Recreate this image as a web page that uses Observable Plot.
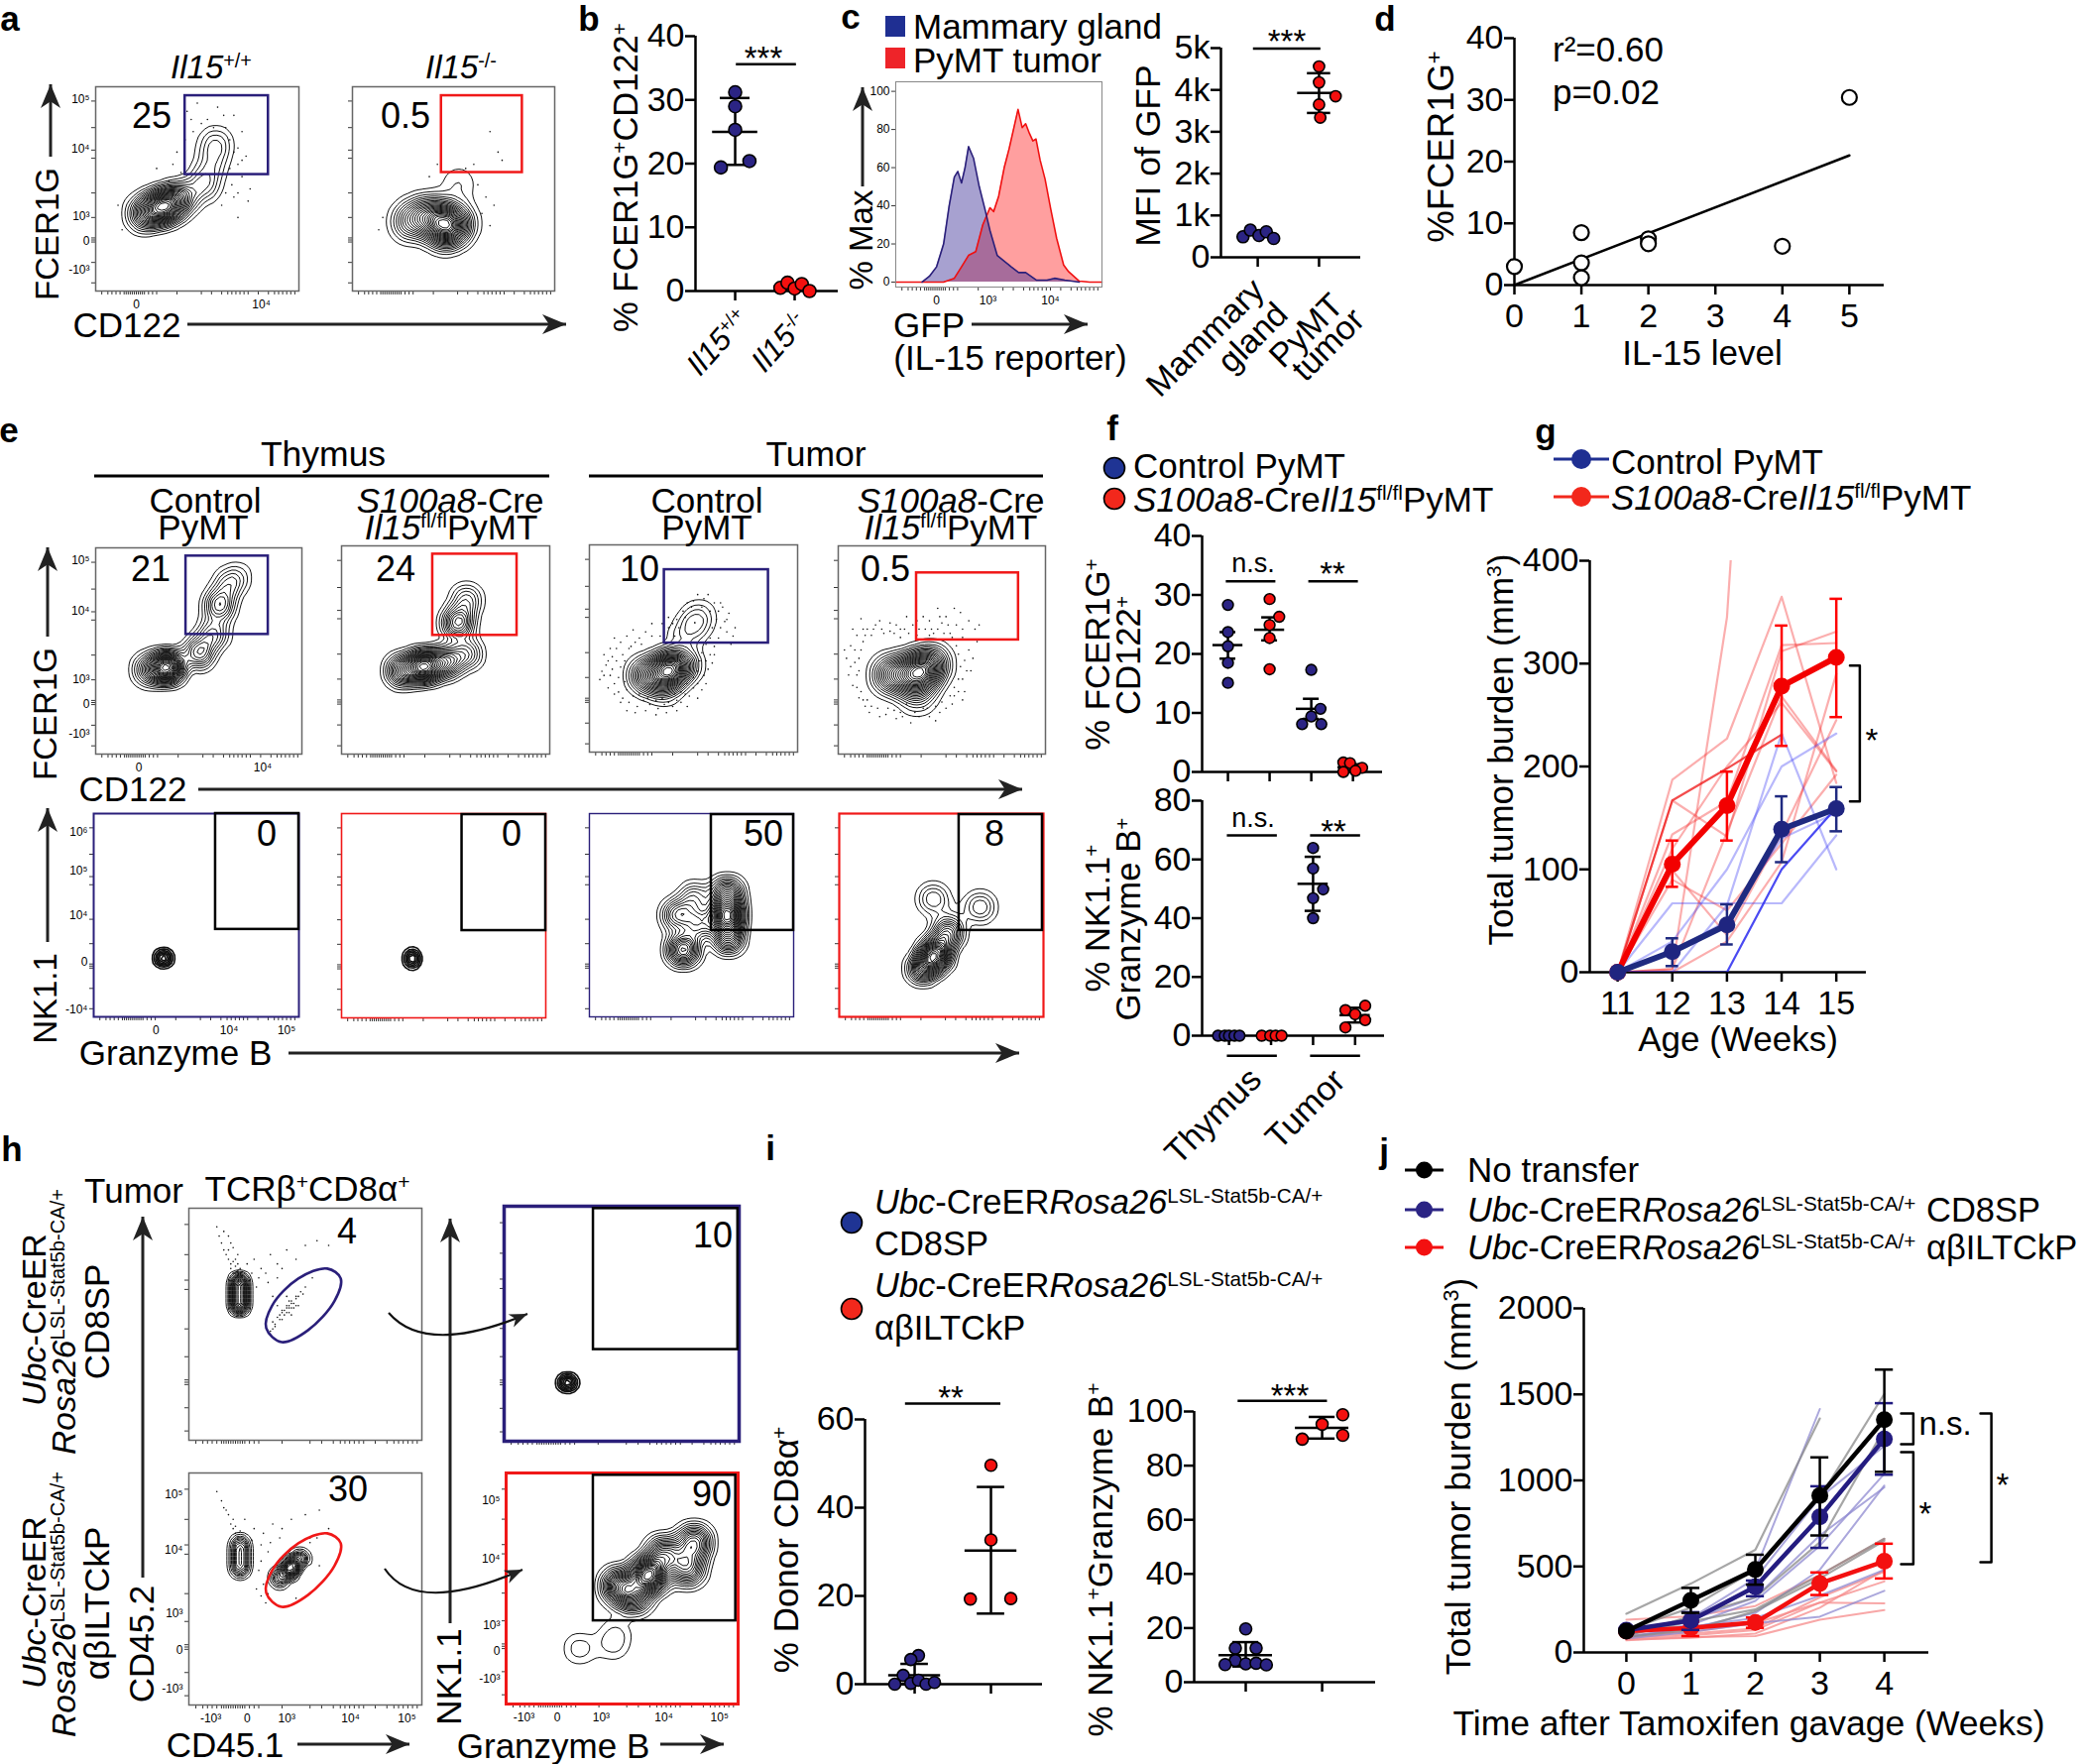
<!DOCTYPE html>
<html><head><meta charset="utf-8">
<script src="https://cdn.jsdelivr.net/npm/d3@7"></script>
<script src="https://cdn.jsdelivr.net/npm/@observablehq/plot@0.6"></script>
<style>
html,body{margin:0;background:#fff}
#root{position:relative;width:2100px;height:1779px;overflow:hidden;background:#fff;font-family:"Liberation Sans",Arial,sans-serif;color:#000}
#root svg{position:absolute;overflow:visible;max-width:none}
.t{position:absolute;white-space:nowrap;line-height:1}
.t sup{font-size:.6em;line-height:0;vertical-align:baseline;position:relative;top:-.55em}
</style></head><body><div id="root"></div>
<script>
const FONT='"Liberation Sans",Arial,sans-serif';
const NAVY='#2b2484',RED='#f4100f',GATEN='#2a1f7a',GATER='#f01818';

/* ---------- flow panels: [x channel %, y channel %, weight] ---------- */
const a1Pts=[[33,41,10],[24,38,5],[41,45,5],[53,52,2.5],[57,62,1.5],[59,72,2]];
const a2Pts=[[44,34,10],[29,34,6],[52,33,6],[37,38,5],[46,28,5],[52,50,1.2],[53,56,.5]];
const e1Pts=[[35,42,10],[26,41,4],[50,49,4],[57,58,3],[60,72,4],[64,82,2],[69,86,1]];
const e2Pts=[[39.5,42,10],[29,40,5],[50,44,5],[60,48,3],[56,63,5],[60,74,2.5]];
const e3Pts=[[38,40,10],[27,37,5],[46,42,3],[44,55,1],[50,61,1.5],[36,32,3],[53,66,1.2]];
const e4Pts=[[38,39,10],[26,38,6],[45,43,5],[38,29,3]];
const e5Pts=[[34,29,1]];
const e6Pts=[[34.5,29,1]];
const e7Pts=[[67.5,50,8],[67.5,61,4],[46,33,5],[43,50,3],[54,46,3],[51.5,58.5,2],[68,39,4]];
const e8Pts=[[47,30.5,10],[41,24,5],[53,41,5],[46,58,2.4],[69,54,2.4],[55,50,.5]];
const h1Pts=[[21.7,68,1],[21.7,63,1],[21.7,58,1]];
const h2Pts=[[27,25,1]];
const h3Pts=[[22,69,3],[22,64,3],[22,59,3],[43.4,59,6],[39,55,3],[47.6,63,3]];
const h4Pts=[[61.5,55.8,10],[49,51,6],[78,59,5],[81,70,5],[68,65,5],[55.5,46.5,4],[31.6,24,1],[46,26,1],[48,33,.5]];

const e3Halo=[[8,42],[10,37],[11,46],[12,33],[13,50],[14,29],[15,53],[16,26],[17,44],[18,56],[19,24],[20,51],[21,59],[23,22],[24,55],[26,25],[27,58],[29,23],[30,62],[33,21],[34,56],[36,23],[38,60],[40,22],[42,25],[44,24],[46,28],[48,27],[50,31],[52,33],[54,30],[55,37],[57,40],[56,44],[58,47],[60,51],[62,55],[63,60],[65,63],[66,58],[67,67],[64,70],[60,72],[55,74],[50,73],[45,68],[42,64],[38,65],[35,62],[68,52],[70,60],[6,39],[9,31],[7,47],[12,55],[5,35],
 [14,36],[15,41],[13,44],[16,47],[17,34],[18,30],[19,50],[21,27],[22,53],[24,28],[25,52],[28,26],[30,56],[32,25],[35,26],[38,24],[41,28],[44,29],[47,33],[50,36],[52,39],[53,44],[54,48],[56,52],[58,55],[59,60],[61,64],[62,68],[58,68],[54,70],[49,70],[46,65],[43,60],[41,56],[40,62],[47,72],[52,76],[57,76],[63,72],[66,64],[69,56],[11,40],[9,44],[7,37],[10,50],[12,28],[15,24],[18,20],[22,19],[27,20],[32,18],[37,19],[42,20],[47,22],[52,26],[56,33],[59,43],[60,47]];
const e4Halo=[[4,46],[5,38],[6,52],[7,33],[8,44],[9,57],[10,27],[11,50],[12,60],[13,23],[15,20],[16,57],[18,62],[20,18],[22,58],[24,22],[25,63],[28,17],[30,20],[32,60],[35,15],[36,62],[39,18],[41,66],[43,22],[45,60],[47,16],[49,20],[50,63],[52,66],[54,58],[55,24],[57,62],[58,30],[59,68],[60,36],[61,45],[62,55],[63,64],[64,40],[66,60],[56,70],[48,70],[44,57],[38,57],[30,56],[56,28],[60,26],[27,58],[10,40],[7,60],[14,26],
 [9,38],[10,46],[8,50],[9,32],[11,30],[12,54],[13,57],[12,26],[14,60],[16,23],[17,60],[19,22],[21,60],[23,19],[25,59],[27,21],[30,60],[31,18],[33,24],[34,58],[37,20],[39,60],[41,22],[42,60],[44,18],[46,58],[47,23],[48,60],[50,25],[51,58],[52,22],[53,62],[54,28],[55,56],[56,32],[57,52],[58,36],[58,48],[59,42],[60,56],[60,60],[61,30],[62,40],[63,50],[65,46],[67,54],[68,62],[49,66],[44,64],[38,64],[33,66],[28,62],[20,64],[6,42],[3,50],[11,65]];
const a1Halo=[[45,88],[50,92],[55,84],[60,90],[68,86],[72,78],[70,70],[74,66],[66,60],[72,56],[76,50],[68,46],[62,42],[40,68],[38,62],[42,58],[36,54],[30,60],[48,78],[44,74],[52,82],[64,80],[75,44],[70,36],[11,42],[13,30],[66,74],[68,68],[70,62],[72,64],[67,52],[70,48],[64,48],[47,84],[58,80],[63,86]];
const a2Halo=[[56,60],[60,62],[48,58],[62,52],[66,46],[70,42],[64,38],[68,32],[15,36],[13,30],[68,78],[72,68],[42,62],[38,56],[74,64]];
const h1Tail=[[12,92],[13,88],[14,85],[15,82],[16,80],[17,78],[18,76],[18,74],[19,72],[20,70],[21,73],[19,77],[17,82],[25,76],[28,78],[31,74],[35,80],[38,76],[42,82],[46,78],[50,84],[55,86],[60,84],[30,70],[34,68],[38,70],[36,62],[38,58],[40,56],[42,58],[43,58],[44,60],[46,62],[48,64],[40,52],[37,50],[36,48],[44,54],[47,58],[50,66],[53,70],[42,62],[39,54],[45,57],
 [41,56],[43,57],[44,59],[45,59],[42,57],[43,60],[41,54],[39,52],[37,49],[46,61],[44,57],[42,55],[40,55],[47,62],[38,53],[43,55],[46,58],[49,63],[35,47],[36,51],[20,78],[20,75],[21,80],[19,83],[18,85],[17,88],[15,90],[20,72],[21,71],[22,74],[21,76],[22,72],[23,71],[27,72],[33,72],[29,66],[40,74]];
const h3Tail=[[12,92],[14,88],[15,85],[17,82],[18,78],[19,76],[20,74],[21,72],[24,80],[28,76],[32,74],[36,78],[40,76],[44,80],[50,82],[56,84],[60,76],[55,72],[52,70],[34,66],[31,62],[30,58],[32,52],[34,48],[52,48],[46,46],[56,60],[16,84],[19,80],[20,77],[22,75],[27,71],[31,69],[35,70],[39,72],[29,50],[31,47],[33,44],[52,72]];
const hEllipse=[[59.4,74],[65.2,69.7],[62.5,60],[51.1,47.4],[39.8,42.3],[33.2,48.3],[35.7,58],[47,69.7]];

const gates={a1:[44,85,57,95.6],a2:[44,84,58,95.6],e1:[43.8,83.7,58,96],e2:[43.8,84.3,57,96],e3:[36,86,52.6,88],e4:[37.8,87,54.8,87],
 e5:[59.4,100,43,100],e6:[59,100,42.7,99.5],e7:[59.7,100,42.5,99.5],e8:[58.7,99.5,42.5,99.5],h2:[38,99.5,39,99],h4:[37.6,99,36,99]};

const minorX=[3,6,8,10,12,14,15,16,17,18,19,20,21,22,23,24,26,28,30,40,52,57,62,65,67,69,71,73,75,80,85,88,90,92,94,96,98];
const minorY=[4,14,24,25,26,36,48,65,69,80,93];

/* histogram of panel c */
const gfpBlueX=[12.8,16.3,19.8,23.2,25.9,28.4,30.1,31.9,33.6,35.3,37.7,40.5,43.3,45.7,49.2,52.6,56,59.6,63,68.3,73.4,77,82,89];
const gfpBlueY=[0,3,8,20,40,55,58,52,60,71,65,50,38,27,14,11,8,5,5,1,1,2,1,0];
const gfpRedX=[0,23.2,28.4,31.9,35.3,38.8,42.2,45.7,47.5,49.9,52.6,55,59.3,61.3,63,64.8,66.5,68,70,72.4,75.2,78,81.4,83.8,89,94,100];
const gfpRedY=[0,0,2,8,14,16,30,39,37,45,60,70,90.5,81,83,78,74,75,64,54,38,23,9,5.5,.5,0,0];

/* dot plots */
const bWtOff=[0,0,0,-.24,.24], bWt=[31.2,29,25.3,19.4,20.4];
const bKoOff=[-.24,-.12,0,.12,.25], bKo=[.5,1.3,.4,1.1,0];
const cMgOff=[-.24,-.12,.02,.14,.26], cMg=[.49,.65,.52,.61,.45];
const cTuOff=[0,0,.27,0,.02], cTu=[4560,4180,3850,3650,3340];
const dX=[0,1,1,1,2,2,4,5], dY=[3,8.5,3.6,1.2,7.5,6.7,6.3,30.4];
const dFit=[[0,0],[5,21]];
const f1Off=[[0,0,0,0,0],[0,.23,0,0,0],[0,.22,0,-.22,.24],[-.23,-.07,.22,.06,-.23]];
const f1Val=[[28.3,23.7,21.3,18.5,15.1],[29.3,26.3,24.9,22.7,17.4],[17.3,10.7,9.4,8.1,8.1],[1.6,1.5,.7,.2,0]];
const f2Off=[[-.26,-.1,0,.13,.25],[-.22,-.02,.11,.25],[0,0,.24,0,0],[.24,-.23,0,.24,-.23]];
const f2Val=[[0,0,0,0,0],[0,0,0,0],[63.9,56.9,49.8,46.8,40],[10.2,8.7,7.3,5.3,2.8]];
const i1Off=[[.05,-.05,-.15,-.26,-.05,.05,.15,.26],[0,0,-.27,.26]];
const i1Val=[[6.5,5.6,2,0,.2,.9,0,.4],[49.6,32.7,19.3,19.4]];
const i2Off=[[0,-.136,.136,-.136,-.27,0,.136,.27],[.27,0,.27,-.26]];
const i2Val=[[19.7,12.6,12.6,8,6.5,6.8,7,6.4],[98.8,95.3,91.2,89.8]];

/* growth curves */
const weeksG=[11,12,13,14,15];
const gRedMean=[0,105,162,278,306],gRedLo=[0,83,128,220,248],gRedHi=[0,128,195,337,363];
const gBlueMean=[0,20,46,139,159],gBlueLo=[0,6,27,107,137],gBlueHi=[0,33,66,171,180];
const gRedThin=[[0,187,227,365,184],[0,167,132,312,331],[0,134,166,318,320],[0,3,345,1150,null],[0,99,36,135,245],[0,3,136,268,196],[0,120,200,262,195],[0,0,30,107,290],[0,90,60,125,192]];
const gRedDark=[[0,167,198,231,null]];
const gBlueThin=[[0,67,67,67,133],[0,30,100,200,232],[0,0,65,232,100],[0,20,50,130,155]];
const gBlueDark=[[0,0,0,100,160]];
const weeksJ=[0,1,2,3,4];
const jBlackMean=[124,303,482,912,1353],jBlackLo=[124,230,394,680,1050],jBlackHi=[124,375,568,1134,1644];
const jBlueMean=[130,186,382,788,1241],jBlueLo=[130,131,327,608,1033],jBlueHi=[130,234,418,966,1449];
const jRedMean=[124,143,174,401,530],jRedLo=[124,95,143,334,430],jRedHi=[124,179,203,465,632];
const jGray=[[225,400,597,1360,null],[130,260,480,900,1503],[100,210,320,640,1300],[100,180,250,450,661],[90,130,240,430,650]];
const jPurple=[[130,300,480,1415,null],[110,160,300,620,1038],[100,190,320,680,960],[90,140,230,480,970],[80,120,170,208,358],[100,200,430,900,1200],[90,150,200,330,480]];
const jPink=[[190,210,270,450,660],[100,120,170,290,413],[80,100,130,290,286],[70,90,95,190,246],[90,110,140,320,470],[75,85,110,260,480]];

/* ---------- helpers ---------- */
const root=document.getElementById('root');
function T(html,x,y,size=35,rot=0,anchor='c',bold=false){
  const s=document.createElement('div');s.className='t';s.innerHTML=html;
  s.style.left=x+'px';s.style.top=y+'px';s.style.fontSize=size+'px';
  if(bold)s.style.fontWeight='bold';
  s.style.transform=(anchor==='c'?'translate(-50%,-50%)':'translate(0,-50%)')+(rot?` rotate(${rot}deg)`:'');
  root.append(s);
}
function place(opts,left,top){const svg=Plot.plot(opts);svg.style.left=left+'px';svg.style.top=top+'px';root.append(svg);return svg;}
const noLabel=()=>'';
const group=(g,off,vals)=>vals.map((v,i)=>({x:g+off[i],y:v}));
const zipXY=(xs,ys)=>xs.map((x,i)=>({x,y:ys[i]}));
const series=(xs,list)=>list.flatMap((s,k)=>s.map((v,i)=>({x:xs[i],y:v,k})).filter(d=>d.y!=null));
const bars=(xs,mean,lo,hi)=>xs.map((x,i)=>({x,m:mean[i],lo:lo[i],hi:hi[i]}));
function dots(data,fill,r=6){return Plot.dot(data,{x:'x',y:'y',r,fill,stroke:'#000',strokeWidth:1.6});}
function err(list,mw,cw,stroke='#000',sw=2.5){
  const rows=Array.isArray(list)?list:[list];
  return [
   Plot.ruleX(rows,{x:'x',y1:'lo',y2:'hi',stroke,strokeWidth:sw}),
   mw?Plot.ruleY(rows,{y:'m',x1:d=>d.x-mw,x2:d=>d.x+mw,stroke,strokeWidth:sw}):null,
   Plot.ruleY(rows,{y:'lo',x1:d=>d.x-cw,x2:d=>d.x+cw,stroke,strokeWidth:sw}),
   Plot.ruleY(rows,{y:'hi',x1:d=>d.x-cw,x2:d=>d.x+cw,stroke,strokeWidth:sw})
  ];
}
const sigBar=(x1,x2,y)=>Plot.ruleY([y],{x1,x2,strokeWidth:2.5});
const bracket=(x0,x1,y0,y1)=>Plot.line([[x0,y0],[x1,y0],[x1,y1],[x0,y1]],{x:d=>d[0],y:d=>d[1],strokeWidth:2.5});

function scat({L,R,Top,B,xd,ymax,yt,yf,xt,xlab=false,fs=34,marks}){
  const mL=110,mR=170,mT=50,mB=60;
  return place({width:R-L+mL+mR,height:B-Top+mT+mB,marginLeft:mL,marginRight:mR,marginTop:mT,marginBottom:mB,
    x:{domain:xd},y:{domain:[0,ymax]},
    style:{fontFamily:FONT,fontSize:fs+'px',color:'#000',background:'transparent'},
    marks:[
      Plot.axisY({ticks:yt,tickSize:10,tickPadding:1,label:null,strokeWidth:2.5,fontSize:fs,tickFormat:yf||(d=>String(d))}),
      Plot.axisX({ticks:xt,tickSize:10,tickPadding:8,label:null,strokeWidth:2.5,fontSize:fs,tickFormat:xlab?(d=>String(d)):noLabel}),
      Plot.ruleX([xd[0]],{y1:0,y2:ymax,strokeWidth:2.5}),
      Plot.ruleY([0],{strokeWidth:2.5}),
      ...marks.flat(2).filter(Boolean)
    ]},L-mL,Top-mT);
}
function flow({L,Top,W,H,frame='#666',fw=1.5,gate,gateColor='#000',gw=2.5,pts,bw=8,th=24,sw=1,halo,ellipse,xl,yl,extra=[]}){
  const m=30;
  const marks=[
    Plot.axisX({ticks:minorX,tickSize:4,tickPadding:0,label:null,strokeWidth:.8,tickFormat:noLabel}),
    Plot.axisY({ticks:minorY,tickSize:4,tickPadding:0,label:null,strokeWidth:.8,tickFormat:noLabel})
  ];
  if(xl)marks.push(Plot.axisX({ticks:xl.map(d=>d[0]),tickSize:0,tickPadding:9,label:null,fontSize:12,tickFormat:v=>xl.find(d=>d[0]===v)[1]}));
  if(yl)marks.push(Plot.axisY({ticks:yl.map(d=>d[0]),tickSize:0,tickPadding:6,label:null,fontSize:12,tickFormat:v=>yl.find(d=>d[0]===v)[1]}));
  if(halo)marks.push(Plot.dot(halo,{x:d=>d[0],y:d=>d[1],r:.8,fill:'#111'}));
  if(pts)marks.push(Plot.density(pts,{x:d=>d[0],y:d=>d[1],weight:d=>d[2],bandwidth:bw,thresholds:th,stroke:'#111',strokeWidth:sw}));
  if(ellipse)marks.push(Plot.line(ellipse,{x:d=>d[0],y:d=>d[1],curve:'catmull-rom-closed',stroke:gateColor,strokeWidth:2.6}));
  marks.push(Plot.frame({stroke:frame,strokeWidth:fw}));
  if(gate)marks.push(Plot.rect([gate],{x1:d=>d[0],x2:d=>d[1],y1:d=>d[2],y2:d=>d[3],fill:'none',stroke:gateColor,strokeWidth:gw}));
  place({width:W+2*m,height:H+2*m,margin:m,x:{domain:[0,100]},y:{domain:[0,100]},
    style:{fontFamily:FONT,fontSize:'12px',color:'#000',background:'transparent'},marks:[...marks,...extra]},L-m,Top-m);
}

/* ---------- panel a ---------- */
const yLabA=[[93.7,'10⁵'],[69.4,'10⁴'],[36.4,'10³'],[24.3,'0'],[10.2,'-10³']];
flow({L:96,Top:87,W:205,H:206,gate:gates.a1,gateColor:GATEN,pts:a1Pts,bw:9,th:24,halo:a1Halo,xl:[[20,'0'],[81.5,'10⁴']],yl:yLabA});
flow({L:355,Top:87,W:204,H:206,gate:gates.a2,gateColor:GATER,pts:a2Pts,bw:10,th:24,halo:a2Halo});

/* ---------- panel b ---------- */
scat({L:701,R:845,Top:36,B:293,xd:[.333,2.733],ymax:40,yt:[0,10,20,30,40],xt:[1,2],marks:[
  err({x:1,m:25,lo:19.8,hi:30.3},.38,.25),sigBar(1.02,2.03,35.6),
  dots(group(1,bWtOff,bWt),NAVY,6.5),dots(group(2,bKoOff,bKo),RED,6.5)]});

/* ---------- panel c ---------- */
{
  const blue=zipXY(gfpBlueX,gfpBlueY),red=zipXY(gfpRedX,gfpRedY),m=30;
  place({width:208+2*m,height:207+2*m,margin:m,x:{domain:[0,100]},y:{domain:[-2.6,105]},
   style:{fontFamily:FONT,fontSize:'12px',background:'transparent'},
   marks:[
    Plot.axisX({ticks:minorX,tickSize:4,tickPadding:0,label:null,strokeWidth:.8,tickFormat:noLabel}),
    Plot.axisX({ticks:[19.7,44.7,75],tickSize:0,tickPadding:9,label:null,fontSize:12,tickFormat:v=>({19.7:'0',44.7:'10³',75:'10⁴'})[v]}),
    Plot.axisY({ticks:[0,20,40,60,80,100],tickSize:4,tickPadding:2,label:null,fontSize:12,strokeWidth:.8}),
    Plot.areaY(red,{x:'x',y1:0,y2:'y',fill:'#ff4040',fillOpacity:.5}),
    Plot.areaY(blue,{x:'x',y1:0,y2:'y',fill:'#3b2f96',fillOpacity:.45}),
    Plot.line(red,{x:'x',y:'y',stroke:'#f01010',strokeWidth:1.6}),
    Plot.line(blue,{x:'x',y:'y',stroke:'#2a1f7a',strokeWidth:1.6}),
    Plot.frame({stroke:'#888',strokeWidth:1})
   ]},903-m,82-m);
}
scat({L:1231,R:1372,Top:48,B:259,xd:[.4,2.68],ymax:5000,yt:[0,1000,2000,3000,4000,5000],yf:d=>d?d/1000+'k':'0',xt:[1,2],marks:[
  err({x:2,m:3930,lo:3450,hi:4400},.35,.19),sigBar(.93,2.03,4990),
  dots(group(1,cMgOff,cMg.map(v=>v*1000)),NAVY,6),dots(group(2,cTuOff,cTu),RED,5.6)]});

/* ---------- panel d ---------- */
scat({L:1527,R:1900,Top:38,B:287,xd:[0,5.52],ymax:40,yt:[0,10,20,30,40],xt:[0,1,2,3,4,5],xlab:true,marks:[
  Plot.line(dFit,{x:d=>d[0],y:d=>d[1],strokeWidth:2.5}),
  Plot.dot(zipXY(dX,dY),{x:'x',y:'y',r:7.5,fill:'#fff',stroke:'#000',strokeWidth:2.2})]});

/* ---------- panel e ---------- */
const yLabE1=[[93.8,'10⁵'],[69.2,'10⁴'],[36,'10³'],[24,'0'],[10,'-10³']];
const yLabE2=[[91,'10⁶'],[72,'10⁵'],[50,'10⁴'],[27,'0'],[3.4,'-10⁴']];
flow({L:96,Top:552,W:208,H:208,gate:gates.e1,gateColor:GATEN,pts:e1Pts,bw:8,th:24,xl:[[21,'0'],[81,'10⁴']],yl:yLabE1});
flow({L:344,Top:550,W:210,H:210,gate:gates.e2,gateColor:GATER,pts:e2Pts,bw:8,th:24});
flow({L:594,Top:549,W:210,H:209,gate:gates.e3,gateColor:GATEN,pts:e3Pts,bw:9,th:24,halo:e3Halo});
flow({L:845,Top:550,W:209,H:210,gate:gates.e4,gateColor:GATER,pts:e4Pts,bw:10,th:24,halo:e4Halo});
flow({L:94,Top:820,W:207,H:205,frame:GATEN,fw:2,gate:gates.e5,pts:e5Pts,bw:3.5,th:8,sw:1.6,xl:[[30.4,'0'],[66,'10⁴'],[94,'10⁵']],yl:yLabE2});
flow({L:344,Top:820,W:206,H:206,frame:GATER,fw:1.6,gate:gates.e6,pts:e6Pts,bw:3,th:7,sw:1.6});
flow({L:594,Top:820,W:206,H:205,frame:GATEN,fw:1.4,gate:gates.e7,pts:e7Pts,bw:8,th:24});
flow({L:846,Top:820,W:206,H:205,frame:GATER,fw:2.2,gate:gates.e8,pts:e8Pts,bw:8,th:24});

/* ---------- panel f ---------- */
const fColors=[NAVY,RED,NAVY,RED];
scat({L:1212,R:1394,Top:540,B:778,xd:[.38,4.71],ymax:40,yt:[0,10,20,30,40],xt:[1,2,3,4],marks:[
  err([{x:1,m:21.5,lo:19.2,hi:23.7},{x:2,m:24.1,lo:22.3,hi:26.2},{x:3,m:10.7,lo:9,hi:12.4},{x:4,m:.8,lo:.3,hi:1.3}],.36,.19),
  sigBar(.96,2.15,32.3),sigBar(2.94,4.13,32.3),
  f1Val.map((v,g)=>dots(group(g+1,f1Off[g],v),fColors[g],5.4))]});
scat({L:1212,R:1396,Top:807,B:1044,xd:[.36,4.7],ymax:80,yt:[0,20,40,60,80],xt:[1,2,3,4],marks:[
  err([{x:3,m:51.7,lo:42.5,hi:60.9},{x:4,m:7,lo:4.5,hi:9.5}],.36,.19),
  sigBar(.96,2.15,68.2),sigBar(2.94,4.13,68.2),
  sigBar(.96,2.15,-6.8),sigBar(2.94,4.13,-6.8),
  f2Val.map((v,g)=>dots(group(g+1,f2Off[g],v),fColors[g],5.4))]});

/* ---------- panel g ---------- */
const thin=(xs,list,stroke,op,sw=2.2)=>Plot.line(series(xs,list),{x:'x',y:'y',z:'k',stroke,strokeOpacity:op,strokeWidth:sw,clip:true});
scat({L:1603,R:1882,Top:565,B:980,xd:[10.49,15.55],ymax:400,yt:[0,100,200,300,400],xt:weeksG,xlab:true,marks:[
  thin(weeksG,gRedThin,'#f51f1f',.36),thin(weeksG,gRedDark,'#f01f1f',.8),
  thin(weeksG,gBlueThin,'#3a3af5',.36),thin(weeksG,gBlueDark,'#2a2af0',.85),
  err(bars(weeksG.slice(1),gRedMean.slice(1),gRedLo.slice(1),gRedHi.slice(1)),0,.115,'#f00'),
  Plot.line(zipXY(weeksG,gRedMean),{x:'x',y:'y',stroke:'#f30000',strokeWidth:6}),
  Plot.dot(zipXY(weeksG,gRedMean),{x:'x',y:'y',r:8.5,fill:'#f30000'}),
  err(bars(weeksG.slice(1),gBlueMean.slice(1),gBlueLo.slice(1),gBlueHi.slice(1)),0,.115,'#1f2a80'),
  Plot.line(zipXY(weeksG,gBlueMean),{x:'x',y:'y',stroke:'#1f2a80',strokeWidth:6}),
  Plot.dot(zipXY(weeksG,gBlueMean),{x:'x',y:'y',r:8.5,fill:'#1f2580'}),
  bracket(15.25,15.43,298,166)]});

/* ---------- panel h ---------- */
flow({L:190,Top:1218,W:235,H:234,ellipse:hEllipse,gateColor:GATEN,pts:h1Pts,bw:3.5,th:16,halo:h1Tail,sw:1});
flow({L:190,Top:1485,W:235,H:234,ellipse:hEllipse,gateColor:GATER,pts:h3Pts,bw:4.5,th:18,halo:h3Tail,sw:1,
  xl:[[9.4,'-10³'],[25,'0'],[42,'10³'],[69.4,'10⁴'],[93.6,'10⁵']],yl:[[90.6,'10⁵'],[66.7,'10⁴'],[39.3,'10³'],[23.5,'0'],[6.8,'-10³']]});
flow({L:508,Top:1216,W:237,H:237,frame:GATEN,fw:3.5,gate:gates.h2,pts:h2Pts,bw:3.5,th:8,sw:1.6});
flow({L:510,Top:1485,W:234,H:233,frame:GATER,fw:3,gate:gates.h4,pts:h4Pts,bw:9,th:26,
  xl:[[7.7,'-10³'],[22,'0'],[41,'10³'],[68,'10⁴'],[92,'10⁵']],yl:[[88,'10⁵'],[62.7,'10⁴'],[34,'10³'],[23,'0'],[11,'-10³']]});

/* ---------- panel i ---------- */
scat({L:872,R:1051,Top:1431,B:1698,xd:[.35,2.675],ymax:60,yt:[0,20,40,60],xt:[1,2],marks:[
  err([{x:1,m:2,lo:0,hi:4.6},{x:2,m:30.3,lo:16,hi:44.7}],.34,.18),sigBar(.88,2.13,63.6),
  dots(group(1,i1Off[0],i1Val[0]),NAVY,6),dots(group(2,i1Off[1],i1Val[1]),RED,6)]});
scat({L:1204,R:1387,Top:1423,B:1696,xd:[.325,2.7],ymax:100,yt:[0,20,40,60,80,100],xt:[1,2],marks:[
  err([{x:1,m:10,lo:5.8,hi:14.8},{x:2,m:94,lo:90,hi:98}],.35,.17),sigBar(.9,2.07,103.9),
  dots(group(1,i2Off[0],i2Val[0]),NAVY,6),dots(group(2,i2Off[1],i2Val[1]),RED,6)]});

/* ---------- panel j ---------- */
const meanLine=(m,c)=>[Plot.line(zipXY(weeksJ,m),{x:'x',y:'y',stroke:c,strokeWidth:4.5}),Plot.dot(zipXY(weeksJ,m),{x:'x',y:'y',r:8.5,fill:c})];
scat({L:1597,R:1945,Top:1319,B:1666,xd:[-.66,4.69],ymax:2000,yt:[0,500,1000,1500,2000],xt:weeksJ,xlab:true,marks:[
  thin(weeksJ,jPink,'#f58a8a',.75,2),thin(weeksJ,jPurple,'#8f8ad0',.75,2),thin(weeksJ,jGray,'#888',.75,2.2),
  err(bars(weeksJ.slice(1),jRedMean.slice(1),jRedLo.slice(1),jRedHi.slice(1)),0,.14,'#f00'),meanLine(jRedMean,'#f31010'),
  err(bars(weeksJ.slice(1),jBlueMean.slice(1),jBlueLo.slice(1),jBlueHi.slice(1)),0,.14,'#201a80'),meanLine(jBlueMean,'#241c80'),
  err(bars(weeksJ.slice(1),jBlackMean.slice(1),jBlackLo.slice(1),jBlackHi.slice(1)),0,.14,'#000'),meanLine(jBlackMean,'#000'),
  bracket(4.26,4.45,1389,1210),bracket(4.26,4.45,1164,513),bracket(5.49,5.66,1389,525)]});

/* ---------- annotation overlay: arrows and legend keys ---------- */
const ov=d3.select(root).append('svg').attr('width',2100).attr('height',1779).style('left','0').style('top','0').style('pointer-events','none');
function head(x,y,ang,len=24,wid=20){
  const c=Math.cos(ang),s=Math.sin(ang);
  const p=(a,b)=>[x+a*c-b*s,y+a*s+b*c].join(',');
  ov.append('path').attr('d',`M${p(0,0)}L${p(-len,wid/2)}L${p(-len*.72,0)}L${p(-len,-wid/2)}Z`).attr('fill','#222');
}
function arrow(x1,y1,x2,y2){
  ov.append('line').attr('x1',x1).attr('y1',y1).attr('x2',x2).attr('y2',y2).attr('stroke','#222').attr('stroke-width',3);
  head(x2,y2,Math.atan2(y2-y1,x2-x1));
}
function curved(x1,y1,cx,cy,x2,y2){
  ov.append('path').attr('d',`M${x1},${y1}Q${cx},${cy} ${x2},${y2}`).attr('fill','none').attr('stroke','#111').attr('stroke-width',2.2);
  head(x2,y2,Math.atan2(y2-cy,x2-cx),18,14);
}
[[51,158,51,85],[189,327,571,327],[870,188,870,88],[980,327,1097,327],
 [48,642,48,552],[200,796,1031,796],[48,950,48,815],[291,1062,1028,1062],
 [144,1591,144,1227],[454,1637,454,1229],[300,1759,413,1759],[666,1759,730,1759]].forEach(a=>arrow(...a));
curved(392,1324,430,1368,532,1325);curved(388,1582,420,1630,527,1583);
const key=(x1,x2,y,c,r,sw)=>{ov.append('line').attr('x1',x1).attr('x2',x2).attr('y1',y).attr('y2',y).attr('stroke',c).attr('stroke-width',sw);ov.append('circle').attr('cx',(x1+x2)/2).attr('cy',y).attr('r',r).attr('fill',c);};
const disc=(x,y,r,c)=>ov.append('circle').attr('cx',x).attr('cy',y).attr('r',r).attr('fill',c).attr('stroke','#000').attr('stroke-width',1.6);
ov.append('rect').attr('x',893).attr('y',16).attr('width',20).attr('height',21).attr('fill','#1f2f92');
ov.append('rect').attr('x',893).attr('y',48).attr('width',20).attr('height',21).attr('fill','#ee2429');
disc(1124,472,10.5,'#1f3494');disc(1124,503,10.5,'#f2281c');
key(1567,1623,463,'#1f2f92',10,3);key(1567,1623,501,'#f2281c',10,3);
disc(859,1233,10.5,'#1f3494');disc(859,1320,10.5,'#f2281c');
key(1417,1456,1180,'#000',8.5,3);key(1417,1456,1220,'#2b2484',8.5,3);key(1417,1456,1258,'#f31010',8.5,3);
ov.append('line').attr('x1',95).attr('x2',554).attr('y1',480).attr('y2',480).attr('stroke','#000').attr('stroke-width',3);
ov.append('line').attr('x1',594).attr('x2',1052).attr('y1',480).attr('y2',480).attr('stroke','#000').attr('stroke-width',3);

/* ---------- text ---------- */
const S100='<i>S100a8</i>-Cre';
const UBC='<i>Ubc</i>-CreER<i>Rosa26</i><sup>LSL-Stat5b-CA/+</sup>';
[['a',10,18],['b',594,18],['c',858,16],['d',1397,18],['e',9,433],['f',1122,431],['g',1559,434],['h',12,1158],['i',777,1157],['j',1396,1160]]
 .forEach(([l,x,y])=>T(l,x,y,35,0,'c',true));
T('<i>Il15</i><sup>+/+</sup>',213,67,33);T('<i>Il15</i><sup>-/-</sup>',465,67,33);
T('25',153,117,36);T('0.5',409,117,36);
T('FCER1G',47,236,33,-90);T('CD122',128,327);
T('% FCER1G<sup>+</sup>CD122<sup>+</sup>',631,179,34.5,-90);
T('***',770,58,33);
T('<i>Il15</i><sup>+/+</sup>',724,345,31,-48);T('<i>Il15</i><sup>-/-</sup>',786,345,31,-48);
T('Mammary gland',921,26,35,0,'l');T('PyMT tumor',921,60,35,0,'l');
T('% Max',868,242,33,-90);T('GFP',937,327);T('(IL-15 reporter)',1019,360);
T('MFI of GFP',1159,157,35.5,-90);T('***',1298,41,33);
T('Mammary',1215,340,34,-45);T('gland',1263,340,34,-45);T('PyMT',1317,333,34,-45);T('tumor',1339,347,34,-45);
T('r²=0.60',1566,49,35,0,'l');T('p=0.02',1566,92,35,0,'l');
T('%FCER1G<sup>+</sup>',1454,148,36.5,-90);T('IL-15 level',1717,355);

T('Thymus',326,459,35.5);T('Tumor',823,459,35.5);
T('Control',207,504);T('PyMT',205,531);
T(S100,454,504);T('<i>Il15</i><sup>fl/fl</sup>PyMT',455,531);
T('Control',713,504);T('PyMT',713,531);
T(S100,959,504);T('<i>Il15</i><sup>fl/fl</sup>PyMT',959,531);
[['21',152,574],['24',399,574],['10',645,574],['0.5',893,574],['0',269,841],['0',516,841],['50',770,841],['8',1003,841]].forEach(d=>T(d[0],d[1],d[2],36));
T('CD122',134,795);T('Granzyme B',177,1061);

T('Control PyMT',1143,469,35,0,'l');T(S100+'<i>Il15</i><sup>fl/fl</sup>PyMT',1143,503,35,0,'l');
T('% FCER1G<sup>+</sup>',1107,660,34.7,-90);T('CD122<sup>+</sup>',1138,661,34.7,-90);
T('n.s.',1264,568,27);T('**',1344,578,33);T('n.s.',1264,825,27);T('**',1345,838,33);
T('% NK1.1<sup>+</sup>',1107,926,34.7,-90);T('Granzyme B<sup>+</sup>',1138,927,34.7,-90);
T('Thymus',1223,1125,34,-45);T('Tumor',1316,1118,34,-45);
T('FCER1G',45,720,33,-90);T('NK1.1',45,1007,33,-90);

T('Control PyMT',1625,465,35,0,'l');T(S100+'<i>Il15</i><sup>fl/fl</sup>PyMT',1625,501,35,0,'l');
T('Total tumor burden (mm<sup>3</sup>)',1513,756,35,-90);T('Age (Weeks)',1753,1047,35);T('*',1888,746,33);

T('Tumor',135,1200);T('TCRβ<sup>+</sup>CD8α<sup>+</sup>',310,1198);
T('<i>Ubc</i>-CreER',34,1331,34,-90);T('<i>Rosa26</i><sup>LSL-Stat5b-CA/+</sup>',65,1333,33.5,-90);T('CD8SP',97,1333,35,-90);
T('<i>Ubc</i>-CreER',34,1616,34,-90);T('<i>Rosa26</i><sup>LSL-Stat5b-CA/+</sup>',65,1618,33.5,-90);T('αβILTCkP',97,1617,35,-90);
T('CD45.2',142,1658,35,-90);T('NK1.1',452,1691,35,-90);T('CD45.1',227,1759);T('Granzyme B',558,1760);
[['4',350,1242],['30',351,1502],['10',719,1246],['90',718,1507]].forEach(d=>T(d[0],d[1],d[2],36));

T(UBC,882,1212,34.5,0,'l');T('CD8SP',882,1254,34.5,0,'l');T(UBC,882,1296,34.5,0,'l');T('αβILTCkP',882,1339,34.5,0,'l');
T('% Donor CD8α<sup>+</sup>',792,1563,35,-90);T('**',959,1409,33);
T('% NK1.1<sup>+</sup>Granzyme B<sup>+</sup>',1109,1573,35,-90);T('***',1301,1407,33);

T('No transfer',1480,1179,35,0,'l');T(UBC,1480,1220,34.5,0,'l');T(UBC,1480,1258,34.5,0,'l');
T('CD8SP',1943,1220,34.5,0,'l');T('αβILTCkP',1943,1258,34.5,0,'l');
T('Total tumor burden (mm<sup>3</sup>)',1472,1489,35.5,-90);T('Time after Tamoxifen gavage (Weeks)',1764,1739,35.5);
T('n.s.',1962,1435,33);T('*',1942,1526,33);T('*',2020,1497,33);
</script></body></html>
